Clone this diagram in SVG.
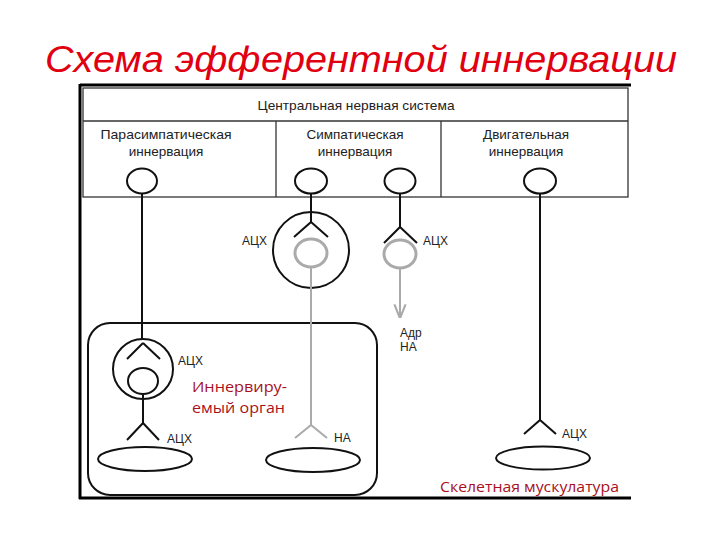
<svg xmlns="http://www.w3.org/2000/svg" width="720" height="540" viewBox="0 0 720 540">
<defs>
<style>
.t{font-family:"Liberation Sans",Arial,sans-serif;font-size:12px;fill:#222}
.h{font-family:"Liberation Sans",Arial,sans-serif;font-size:13.5px;fill:#222;text-anchor:middle}
.red{font-family:"Open Sans","Liberation Sans",sans-serif;font-size:14px;fill:#a8101c}
.k{fill:none;stroke:#111;stroke-width:2}
.g{fill:none;stroke:#aaa;stroke-width:2}
.gt{fill:none;stroke:#aaa;stroke-width:3}
.thin{fill:none;stroke:#333;stroke-width:1.3}
</style>
<marker id="ar" viewBox="0 0 10 10" refX="9" refY="5" markerWidth="7" markerHeight="7" orient="auto">
<path d="M0,1 L10,5 L0,9" fill="none" stroke="#aaa" stroke-width="1.5"/>
</marker>
</defs>
<rect width="720" height="540" fill="#fff"/>
<text x="361" y="72" text-anchor="middle" font-family="Liberation Sans,sans-serif" font-style="italic" font-size="36" fill="#e00010" textLength="632" lengthAdjust="spacingAndGlyphs">Схема эфферентной иннервации</text>

<g id="frame">
<path d="M80,85 H631 M80,84 V499 M79,498 H631" stroke="#000" stroke-width="3" fill="none"/>
</g>

<g id="cns">
<rect x="83" y="88" width="545" height="109" class="thin"/>
<line x1="83" y1="121" x2="628" y2="121" class="thin"/>
<line x1="276" y1="121" x2="276" y2="197" class="thin"/>
<line x1="441" y1="121" x2="441" y2="197" class="thin"/>
<text class="h" x="356" y="110" textLength="197" lengthAdjust="spacingAndGlyphs">Центральная нервная система</text>
<text class="h" x="166" y="139" textLength="131" lengthAdjust="spacingAndGlyphs">Парасимпатическая</text>
<text class="h" x="166" y="156">иннервация</text>
<text class="h" x="355" y="139">Симпатическая</text>
<text class="h" x="355" y="156">иннервация</text>
<text class="h" x="526" y="139">Двигательная</text>
<text class="h" x="526" y="156">иннервация</text>
</g>

<g id="neuron-para"><ellipse cx="142" cy="181" rx="15" ry="12.5" class="k"/></g>
<g id="neuron-symp1"><ellipse cx="311" cy="181" rx="16" ry="12.5" class="k"/></g>
<g id="neuron-symp2"><ellipse cx="400" cy="181" rx="15.5" ry="12.5" class="k"/></g>
<g id="neuron-motor"><ellipse cx="540" cy="181" rx="16" ry="12.5" class="k"/></g>

<g id="organ">
<rect x="88" y="323" width="289" height="172" rx="22" ry="22" class="k"/>
<text class="red" x="192" y="392" textLength="95" lengthAdjust="spacingAndGlyphs">Иннервиру-</text>
<text class="red" x="192" y="413" textLength="93" lengthAdjust="spacingAndGlyphs">емый орган</text>
</g>

<g id="para-ganglion">
<circle cx="143" cy="369" r="30" class="k"/>
<ellipse cx="143" cy="381" rx="15" ry="13" class="k"/>
<text class="t" x="178" y="365">АЦХ</text>
</g>
<g id="effector-para">
<ellipse cx="145" cy="459" rx="47" ry="12" class="k"/>
<text class="t" x="167" y="443">АЦХ</text>
</g>

<g id="symp-ganglion">
<circle cx="311" cy="250" r="38" class="k"/>
<ellipse cx="311" cy="253" rx="16" ry="14" class="gt"/>
<text class="t" x="267" y="245" text-anchor="end">АЦХ</text>
</g>
<g id="effector-symp">
<ellipse cx="313" cy="460" rx="47" ry="12" class="k"/>
<text class="t" x="334" y="442">НА</text>
</g>

<g id="adrenal">
<ellipse cx="400" cy="254" rx="16" ry="14" class="gt"/>
<text class="t" x="423" y="245">АЦХ</text>
<text class="t" x="400" y="337">Адр</text>
<text class="t" x="400" y="351">НА</text>
</g>

<g id="muscle">
<ellipse cx="543" cy="458" rx="47" ry="11.5" class="k"/>
<text class="t" x="562" y="438">АЦХ</text>
<text class="red" x="440" y="492" textLength="179" lengthAdjust="spacingAndGlyphs">Скелетная мускулатура</text>
</g>

<g id="connectors">
<path d="M142,193.5 V339 M143,343 L127,359 M143,343 L160,359 M143,394 V423 L127,440 M143,423 L159,440" class="k"/>
<path d="M311,193.5 V222 L294,237 M311,222 L328,237" class="k"/>
<path d="M311,267 V425 L295,438 M311,425 L327,438" class="g"/>
<path d="M400,193.5 V227 L384,243 M400,227 L417,243" class="k"/>
<path d="M400,268 V317" class="g" marker-end="url(#ar)"/>
<path d="M540,193.5 V420 L524,434 M540,420 L556,434" class="k"/>
</g>
</svg>
